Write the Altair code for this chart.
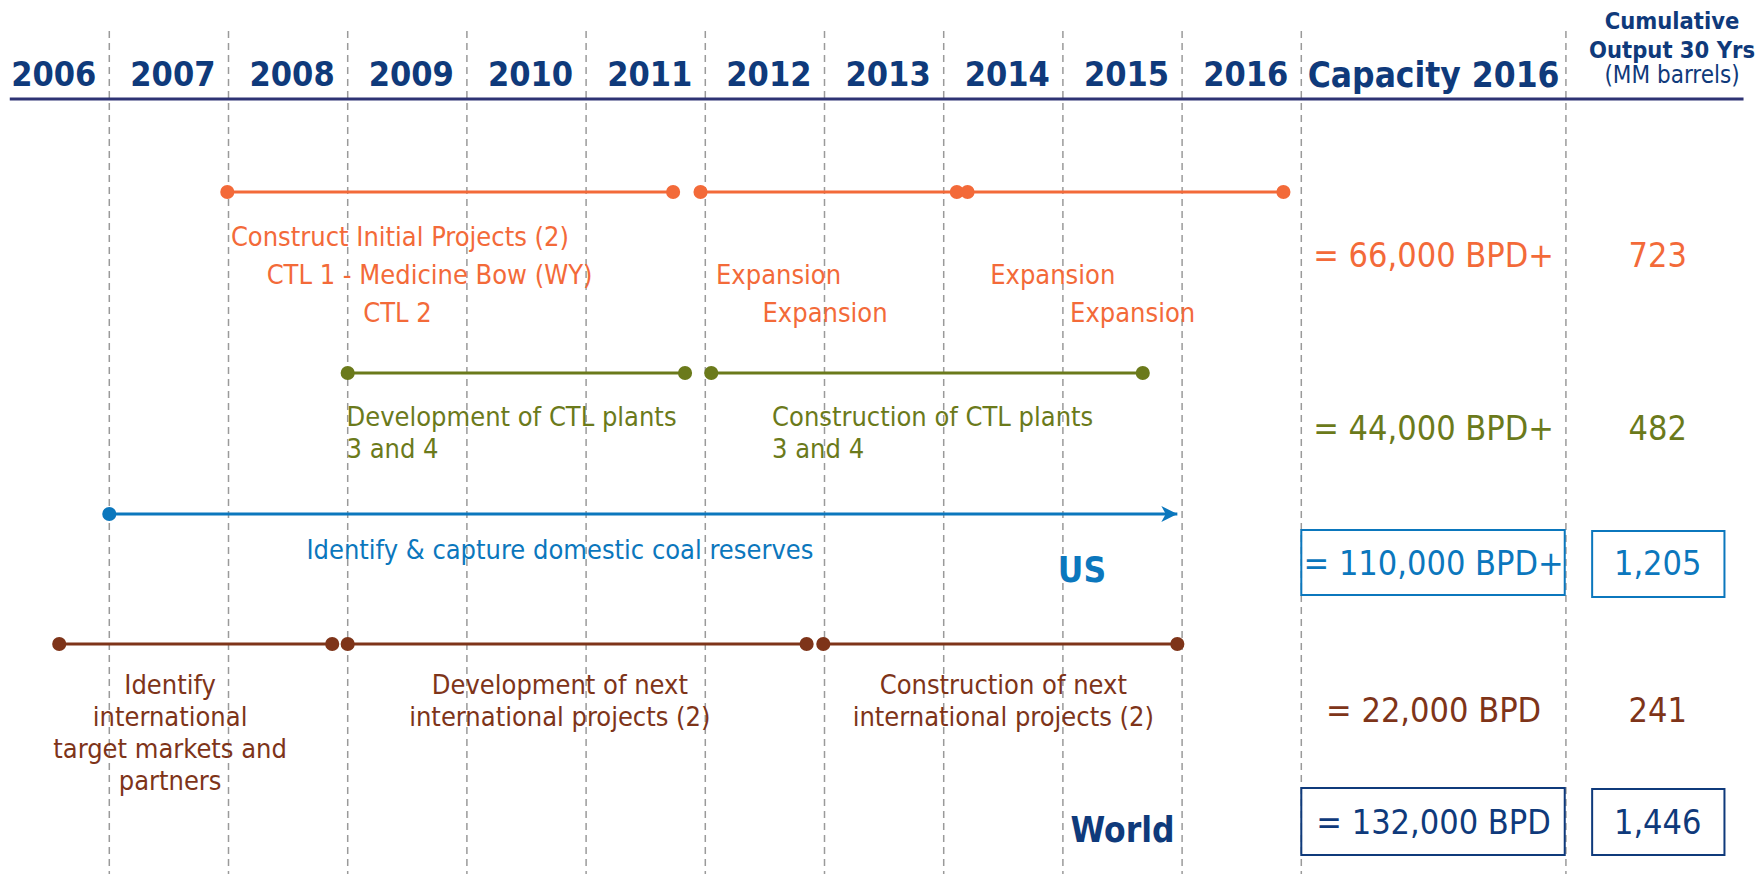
import altair as alt
import pandas as pd

# ---------------- data ----------------
YEARS = list(range(2006, 2017))
CAPACITY_HEADER = "Capacity 2016"
CUMULATIVE_HEADER = ["Cumulative", "Output 30 Yrs", "(MM barrels)"]

# milestone segments (fractional years)
INITIAL_STARTS = [2007.99, 2011.96, 2014.20]
INITIAL_ENDS = [2011.73, 2014.11, 2016.85]
CTL34_STARTS = [2009.00, 2012.05]
CTL34_ENDS = [2011.83, 2015.67]
US_STARTS = [2007.00]
US_ENDS = [2015.96]
INTL_STARTS = [2006.58, 2009.00, 2012.99]
INTL_ENDS = [2008.87, 2012.85, 2015.96]

INITIAL_TEXT = ["Construct Initial Projects (2)", "CTL 1 - Medicine Bow (WY)", "CTL 2",
                "Expansion", "Expansion", "Expansion", "Expansion"]
CTL34_TEXT = ["Development of CTL plants", "3 and 4", "Construction of CTL plants", "3 and 4"]
US_TEXT = ["Identify & capture domestic coal reserves"]
INTL_TEXT = ["Identify", "international", "target markets and", "partners",
             "Development of next", "international projects (2)",
             "Construction of next", "international projects (2)"]
REGIONS = ["US", "World"]

CAPACITY_2016 = ["= 66,000 BPD+", "= 44,000 BPD+", "= 110,000 BPD+", "= 22,000 BPD", "= 132,000 BPD"]
CUMULATIVE_30Y = ["723", "482", "1,205", "241", "1,446"]

# ---------------- style / layout ----------------
ORANGE = "#F36A39"
OLIVE = "#6B7A1B"
BLUE = "#0B77BD"
BROWN = "#7E3419"
NAVY = "#0F3A7B"
GRID = "#9A9A9A"
FONT = "DejaVu Sans Condensed, Liberation Sans, sans-serif"

W, H = 1747, 866
PX_PER_YEAR = 119.2
X0 = 2007 - (109.3 - 8) / PX_PER_YEAR
XS = alt.Scale(domain=[X0, X0 + W / PX_PER_YEAR], nice=False, zero=False)
YS = alt.Scale(domain=[8, 8 + H], nice=False, zero=False, reverse=True)

CAP_T = 2018.11      # centre of the capacity column
CUM_T = 2019.99      # centre of the cumulative column
CUM_HEAD_T = 2020.11
DIVIDERS = list(range(2007, 2018)) + [2019.22]

TRACK_Y = {"initial": 192, "ctl34": 373, "us": 514, "intl": 644}
ROW_Y = [256.5, 430, 564.5, 712, 824]          # summary rows
ROW_COLORS = [ORANGE, OLIVE, BLUE, BROWN, NAVY]

INITIAL_POS = [(2008.02, 237.5), (2008.32, 275.5), (2009.13, 313.5),
               (2012.09, 275.5), (2012.48, 313.5), (2014.39, 275.5), (2015.06, 313.5)]
CTL34_POS = [(2008.99, 418), (2008.99, 450), (2012.56, 418), (2012.56, 450)]
US_POS = [(2010.78, 550.5)]
INTL_POS = [(2007.51, 686), (2007.51, 718), (2007.51, 750), (2007.51, 782),
            (2010.78, 686), (2010.78, 718), (2014.50, 686), (2014.50, 718)]
REGION_POS = [(2015.16, 571, BLUE), (2015.50, 831, NAVY)]


def X(field="t"):
    return alt.X(f"{field}:Q", scale=XS, axis=None)


def Y(field="y"):
    return alt.Y(f"{field}:Q", scale=YS, axis=None)


def text_layer(df, size, weight="normal", align="center", dx=0):
    return alt.Chart(df).mark_text(
        font=FONT, fontSize=size, fontWeight=weight, align=align,
        baseline="middle", dx=dx
    ).encode(x=X(), y=Y(), text="text:N", color=alt.Color("color:N", scale=None))


# ---------------- tables ----------------
grid_df = pd.DataFrame({"t": DIVIDERS, "y0": 31, "y1": 8 + H})
underline_df = pd.DataFrame({"t": [2006.165], "t2": [2020.71], "y": [99]})

seg_rows, dot_rows = [], []
for name, starts, ends, color in [
    ("initial", INITIAL_STARTS, INITIAL_ENDS, ORANGE),
    ("ctl34", CTL34_STARTS, CTL34_ENDS, OLIVE),
    ("us", US_STARTS, US_ENDS, BLUE),
    ("intl", INTL_STARTS, INTL_ENDS, BROWN),
]:
    for s, e in zip(starts, ends):
        seg_rows.append({"t": s, "t2": e, "y": TRACK_Y[name], "color": color})
        dot_rows.append({"t": s, "y": TRACK_Y[name], "color": color})
        if name != "us":
            dot_rows.append({"t": e, "y": TRACK_Y[name], "color": color})
seg_df = pd.DataFrame(seg_rows)
dot_df = pd.DataFrame(dot_rows)
arrow_df = pd.DataFrame({"t": US_ENDS, "y": [TRACK_Y["us"]], "color": [BLUE]})

year_df = pd.DataFrame({"t": [y + 0.5 for y in YEARS], "y": 76,
                        "text": [str(y) for y in YEARS], "color": NAVY})
cap_head_df = pd.DataFrame({"t": [CAP_T], "y": [76], "text": [CAPACITY_HEADER], "color": [NAVY]})
cum_head_bold = pd.DataFrame({"t": [CUM_HEAD_T, CUM_HEAD_T], "y": [22, 51],
                              "text": CUMULATIVE_HEADER[:2], "color": NAVY})
cum_head_reg = pd.DataFrame({"t": [CUM_HEAD_T], "y": [76], "text": CUMULATIVE_HEADER[2:], "color": [NAVY]})


def lab(texts, pos, color):
    return pd.DataFrame({"t": [p[0] for p in pos], "y": [p[1] for p in pos],
                         "text": texts, "color": color})


left_labels = pd.concat([lab(INITIAL_TEXT, INITIAL_POS, ORANGE),
                         lab(CTL34_TEXT, CTL34_POS, OLIVE)])
center_labels = pd.concat([lab(US_TEXT, US_POS, BLUE),
                           lab(INTL_TEXT, INTL_POS, BROWN)])
region_df = pd.DataFrame({"t": [p[0] for p in REGION_POS], "y": [p[1] for p in REGION_POS],
                          "text": REGIONS, "color": [p[2] for p in REGION_POS]})

cap_df = pd.DataFrame({"t": CAP_T, "y": ROW_Y, "text": CAPACITY_2016, "color": ROW_COLORS})
cum_df = pd.DataFrame({"t": CUM_T, "y": ROW_Y, "text": CUMULATIVE_30Y, "color": ROW_COLORS})

box_df = pd.DataFrame({
    "t": [2017.0, 2019.44, 2017.0, 2019.44],
    "t2": [2019.21, 2020.55, 2019.21, 2020.55],
    "y": [530, 531, 788, 789],
    "y2": [595, 597, 855, 855],
    "color": [BLUE, BLUE, NAVY, NAVY],
})

# ---------------- layers ----------------
grid = alt.Chart(grid_df).mark_rule(color=GRID, strokeWidth=1.5, strokeDash=[7, 5]).encode(
    x=X(), y=Y("y0"), y2="y1")
underline = alt.Chart(underline_df).mark_rule(color="#2E3374", strokeWidth=3).encode(
    x=X(), x2="t2", y=Y())
segments = alt.Chart(seg_df).mark_rule(strokeWidth=3).encode(
    x=X(), x2="t2", y=Y(), color=alt.Color("color:N", scale=None))
dots = alt.Chart(dot_df).mark_circle(size=200, opacity=1).encode(
    x=X(), y=Y(), color=alt.Color("color:N", scale=None))
arrow = alt.Chart(arrow_df).mark_point(
    shape="M-1,-1L1,0L-1,1L-0.45,0Z", filled=True, size=256, opacity=1, xOffset=-8
).encode(x=X(), y=Y(), color=alt.Color("color:N", scale=None))
boxes = alt.Chart(box_df).mark_rect(filled=False, strokeWidth=2).encode(
    x=X(), x2="t2", y=Y(), y2="y2", color=alt.Color("color:N", scale=None))

layers = [
    grid, underline, segments, dots, arrow, boxes,
    text_layer(year_df, 34, "bold", dx=4),
    text_layer(cap_head_df, 35, "bold"),
    text_layer(cum_head_bold, 23.5, "bold"),
    text_layer(cum_head_reg, 24),
    text_layer(left_labels, 27, align="left"),
    text_layer(center_labels, 27),
    text_layer(region_df, 35, "bold"),
    text_layer(cap_df, 34),
    text_layer(cum_df, 34),
]

chart = alt.layer(*layers).properties(
    width=W, height=H, padding=0,
    autosize=alt.AutoSizeParams(type="none"),
).configure_view(stroke=None)

chart.save("out.html", embed_options={"renderer": "svg", "actions": False})
